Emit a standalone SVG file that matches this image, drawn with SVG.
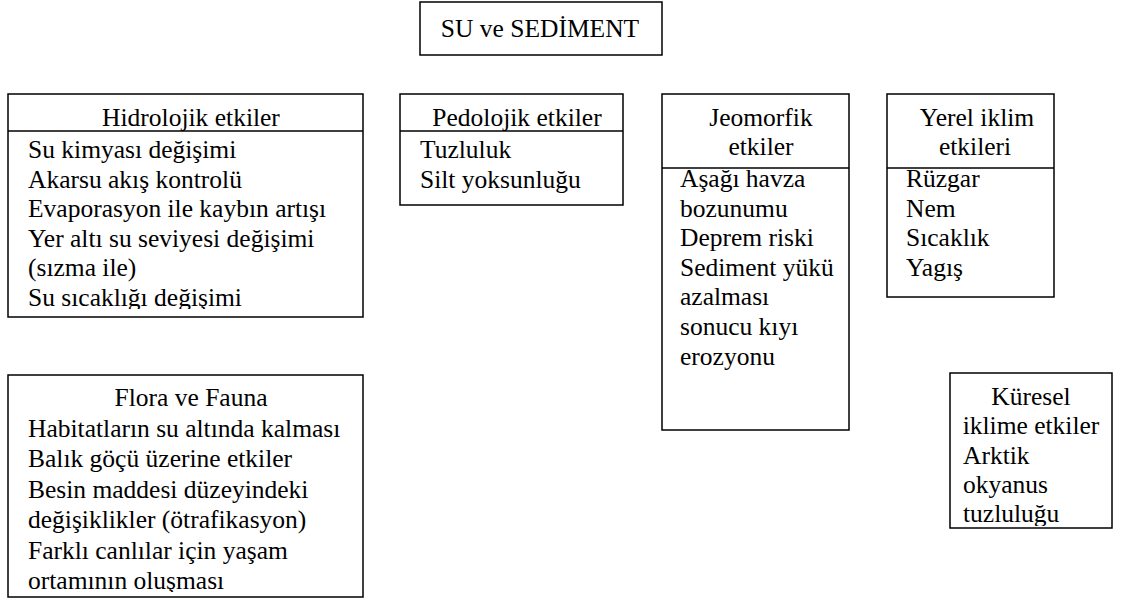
<svg xmlns="http://www.w3.org/2000/svg" width="1121" height="603" viewBox="0 0 1121 603" font-family="Liberation Serif, DejaVu Serif, serif">
<style>
  .box { fill: #fff; stroke: #000; stroke-width: 1.5; }
  .div { stroke: #000; stroke-width: 1.5; }
  text { font-family: 'Liberation Serif', 'DejaVu Serif', serif; font-size: 25.5px; fill: #000; }
  .c { text-anchor: middle; }
</style>
<defs>
  <clipPath id="clipH"><rect x="8" y="131" width="355" height="178"/></clipPath>
  <clipPath id="clipF"><rect x="8" y="375" width="355" height="217"/></clipPath>
  <clipPath id="clipK"><rect x="950" y="373" width="162" height="153"/></clipPath>
</defs>
<g id="connectors"></g>
<g id="title">
  <rect class="box" x="420" y="2" width="242" height="53"/>
  <text class="c" x="540" y="37">SU ve SEDİMENT</text>
</g>
<g id="hidrolojik">
  <rect class="box" x="8" y="94" width="355" height="223"/>
  <line class="div" x1="8" y1="131" x2="363" y2="131"/>
  <text class="c" x="191" y="126">Hidrolojik etkiler</text>
  <g clip-path="url(#clipH)">
    <text x="28" y="158">Su kimyası değişimi</text>
    <text x="28" y="187.6">Akarsu akış kontrolü</text>
    <text x="28" y="217.2">Evaporasyon ile kaybın artışı</text>
    <text x="28" y="246.8">Yer altı su seviyesi değişimi</text>
    <text x="28" y="276.4">(sızma ile)</text>
    <text x="28" y="306">Su sıcaklığı değişimi</text>
  </g>
</g>
<g id="pedolojik">
  <rect class="box" x="400" y="94" width="223" height="111"/>
  <line class="div" x1="400" y1="131" x2="623" y2="131"/>
  <text class="c" x="517" y="126">Pedolojik etkiler</text>
  <text x="420" y="158">Tuzluluk</text>
  <text x="420" y="187.6">Silt yoksunluğu</text>
</g>
<g id="jeomorfik">
  <rect class="box" x="662" y="94" width="187" height="336"/>
  <line class="div" x1="662" y1="168" x2="849" y2="168"/>
  <text class="c" x="761" y="126">Jeomorfik</text>
  <text class="c" x="761" y="155">etkiler</text>
  <text x="680" y="187">Aşağı havza</text>
  <text x="680" y="216.6">bozunumu</text>
  <text x="680" y="246.2">Deprem riski</text>
  <text x="680" y="275.8">Sediment yükü</text>
  <text x="680" y="305.4">azalması</text>
  <text x="680" y="335">sonucu kıyı</text>
  <text x="680" y="364.6">erozyonu</text>
</g>
<g id="yerel">
  <rect class="box" x="887" y="94" width="167" height="203"/>
  <line class="div" x1="887" y1="168" x2="1054" y2="168"/>
  <text class="c" x="977" y="126">Yerel iklim</text>
  <text class="c" x="975" y="155">etkileri</text>
  <text x="906" y="187">Rüzgar</text>
  <text x="906" y="216.6">Nem</text>
  <text x="906" y="246.2">Sıcaklık</text>
  <text x="906" y="275.8">Yagış</text>
</g>
<g id="flora">
  <rect class="box" x="8" y="375" width="355" height="222"/>
  <g clip-path="url(#clipF)">
    <text class="c" x="191" y="406">Flora ve Fauna</text>
    <text x="28" y="436.5">Habitatların su altında kalması</text>
    <text x="28" y="467">Balık göçü üzerine etkiler</text>
    <text x="28" y="497.5">Besin maddesi düzeyindeki</text>
    <text x="28" y="528">değişiklikler (ötrafikasyon)</text>
    <text x="28" y="558.5">Farklı canlılar için yaşam</text>
    <text x="28" y="589">ortamının oluşması</text>
  </g>
</g>
<g id="kuresel">
  <rect class="box" x="950" y="373" width="162" height="155"/>
  <g clip-path="url(#clipK)">
    <text class="c" x="1031" y="405">Küresel</text>
    <text class="c" x="1031" y="434.3">iklime etkiler</text>
    <text x="963" y="463.6">Arktik</text>
    <text x="963" y="492.9">okyanus</text>
    <text x="963" y="522.2">tuzluluğu</text>
  </g>
</g>
</svg>
